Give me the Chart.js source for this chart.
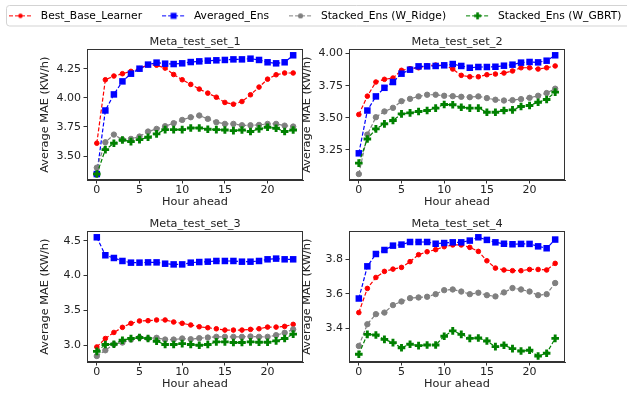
<!DOCTYPE html>
<html>
<head>
<meta charset="utf-8">
<script src="https://cdn.jsdelivr.net/npm/chart.js@4.4.0/dist/chart.umd.min.js"></script>
<style>
html, body { margin: 0; padding: 0; background: #fff; overflow: hidden; }
body { width: 627px; height: 396px; position: relative; }
canvas { position: absolute; }
</style>
</head>
<body>
<canvas id="legend" width="720" height="60" style="left:-11px;top:-6px"></canvas>
<canvas id="c1" width="313" height="180" style="left:0px;top:30px"></canvas>
<canvas id="c2" width="313" height="180" style="left:262px;top:30px"></canvas>
<canvas id="c3" width="313" height="180" style="left:0px;top:212px"></canvas>
<canvas id="c4" width="313" height="180" style="left:262px;top:212px"></canvas>
<script>
// data
const hours = [0, 1, 2, 3, 4, 5, 6, 7, 8, 9, 10, 11, 12, 13, 14, 15, 16, 17, 18, 19, 20, 21, 22, 23];
const xTicks = [0, 5, 10, 15, 20];
const seriesNames = ['Best_Base_Learner', 'Averaged_Ens', 'Stacked_Ens (W_Ridge)', 'Stacked_Ens (W_GBRT)'];
const seriesColors = ['#ff0000', '#0000ff', '#808080', '#008000'];

const set1Best  = [3.61, 4.155, 4.187, 4.207, 4.227, 4.25, 4.285, 4.28, 4.255, 4.20, 4.155, 4.115, 4.075, 4.04, 4.005, 3.96, 3.945, 3.968, 4.026, 4.092, 4.16, 4.198, 4.213, 4.213];
const set1Avg   = [3.345, 3.891, 4.029, 4.141, 4.207, 4.25, 4.285, 4.302, 4.293, 4.29, 4.296, 4.307, 4.313, 4.319, 4.322, 4.325, 4.33, 4.33, 4.336, 4.325, 4.305, 4.296, 4.305, 4.365];
const set1Ridge = [3.40, 3.618, 3.684, 3.641, 3.647, 3.667, 3.71, 3.733, 3.756, 3.782, 3.81, 3.833, 3.848, 3.819, 3.79, 3.776, 3.776, 3.764, 3.764, 3.767, 3.776, 3.776, 3.761, 3.753];
const set1Gbrt  = [3.345, 3.555, 3.609, 3.638, 3.624, 3.641, 3.661, 3.69, 3.727, 3.727, 3.727, 3.741, 3.741, 3.73, 3.727, 3.724, 3.718, 3.724, 3.71, 3.733, 3.747, 3.739, 3.71, 3.724];

const set2Best  = [3.526, 3.669, 3.779, 3.80, 3.81, 3.87, 3.883, 3.89, 3.906, 3.911, 3.909, 3.88, 3.831, 3.82, 3.82, 3.836, 3.841, 3.849, 3.865, 3.89, 3.89, 3.88, 3.89, 3.904];
const set2Avg   = [3.224, 3.557, 3.667, 3.734, 3.779, 3.844, 3.875, 3.901, 3.901, 3.904, 3.909, 3.919, 3.904, 3.89, 3.896, 3.896, 3.898, 3.906, 3.914, 3.93, 3.935, 3.932, 3.945, 3.987];
const set2Ridge = [3.0625, 3.37, 3.505, 3.55, 3.578, 3.63, 3.648, 3.667, 3.68, 3.68, 3.672, 3.669, 3.664, 3.661, 3.667, 3.654, 3.641, 3.635, 3.638, 3.646, 3.656, 3.672, 3.693, 3.727];
const set2Gbrt  = [3.148, 3.336, 3.414, 3.453, 3.479, 3.531, 3.539, 3.549, 3.557, 3.576, 3.604, 3.602, 3.583, 3.576, 3.576, 3.544, 3.544, 3.557, 3.562, 3.589, 3.596, 3.622, 3.643, 3.70];

const set3Best  = [2.976, 3.097, 3.184, 3.257, 3.315, 3.349, 3.353, 3.363, 3.363, 3.334, 3.315, 3.291, 3.266, 3.252, 3.237, 3.218, 3.218, 3.218, 3.228, 3.237, 3.261, 3.261, 3.271, 3.30];
const set3Avg   = [4.55, 4.292, 4.253, 4.21, 4.186, 4.186, 4.19, 4.19, 4.171, 4.161, 4.161, 4.186, 4.195, 4.20, 4.21, 4.21, 4.21, 4.20, 4.20, 4.21, 4.234, 4.244, 4.234, 4.234];
const set3Ridge = [2.845, 2.928, 3.015, 3.039, 3.082, 3.111, 3.097, 3.107, 3.082, 3.082, 3.097, 3.087, 3.102, 3.111, 3.121, 3.121, 3.121, 3.121, 3.126, 3.121, 3.121, 3.145, 3.179, 3.228];
const set3Gbrt  = [2.913, 3.01, 3.015, 3.073, 3.097, 3.111, 3.097, 3.058, 3.01, 3.01, 3.024, 3.01, 3.00, 3.01, 3.049, 3.049, 3.039, 3.039, 3.049, 3.044, 3.044, 3.063, 3.097, 3.16];

const set4Best  = [3.492, 3.631, 3.694, 3.729, 3.742, 3.752, 3.785, 3.825, 3.842, 3.854, 3.871, 3.881, 3.881, 3.867, 3.844, 3.79, 3.748, 3.737, 3.733, 3.733, 3.74, 3.74, 3.737, 3.775];
const set4Avg   = [3.573, 3.758, 3.829, 3.852, 3.877, 3.883, 3.898, 3.898, 3.898, 3.888, 3.892, 3.896, 3.896, 3.906, 3.925, 3.91, 3.896, 3.888, 3.885, 3.887, 3.887, 3.873, 3.862, 3.912];
const set4Ridge = [3.30, 3.425, 3.483, 3.492, 3.535, 3.556, 3.575, 3.579, 3.583, 3.598, 3.621, 3.625, 3.613, 3.598, 3.606, 3.592, 3.585, 3.608, 3.633, 3.625, 3.613, 3.592, 3.598, 3.662];
const set4Gbrt  = [3.252, 3.367, 3.363, 3.338, 3.319, 3.29, 3.31, 3.302, 3.306, 3.306, 3.356, 3.387, 3.367, 3.344, 3.346, 3.329, 3.296, 3.304, 3.285, 3.271, 3.275, 3.242, 3.258, 3.344];

const yTicks1 = [3.5, 3.75, 4.0, 4.25];
const yLabels1 = ['3.50', '3.75', '4.00', '4.25'];
const yTicks2 = [3.25, 3.5, 3.75, 4.0];
const yLabels2 = ['3.25', '3.50', '3.75', '4.00'];
const yTicks3 = [3.0, 3.5, 4.0, 4.5];
const yLabels3 = ['3.0', '3.5', '4.0', '4.5'];
const yTicks4 = [3.4, 3.6, 3.8];
const yLabels4 = ['3.4', '3.6', '3.8'];

const FONT = 'DejaVu Sans';
const TEXT = '#222';
const AXIS = '#333';

// box round the plot area, like the matplotlib spines
const frame = {
  id: 'frame',
  afterDatasetsDraw(chart) {
    const a = chart.chartArea;
    const ctx = chart.ctx;
    ctx.save();
    ctx.strokeStyle = AXIS;
    ctx.lineWidth = 1;
    ctx.strokeRect(Math.round(a.left) + 0.5, Math.round(a.top) + 0.5, Math.round(a.right - a.left) - 1, Math.round(a.bottom - a.top) - 1);
    ctx.restore();
  }
};

function series(i, values, shape, radius, borderW) {
  return {
    label: seriesNames[i],
    order: 3 - i,
    data: values.map((v, k) => ({ x: hours[k], y: v })),
    borderColor: seriesColors[i],
    backgroundColor: seriesColors[i],
    borderWidth: 1.2,
    borderDash: [4, 2],
    tension: 0,
    pointStyle: shape,
    pointRadius: radius,
    pointBorderWidth: borderW,
    pointBorderColor: seriesColors[i],
    pointBackgroundColor: seriesColors[i],
    clip: false
  };
}

function axisGrid() {
  return { display: true, drawOnChartArea: false, drawTicks: true, tickLength: 3.5, tickColor: AXIS, lineWidth: 1 };
}

function makePanel(id, title, best, avg, ridge, gbrt, yTicks, yLabels) {
  const all = best.concat(avg, ridge, gbrt);
  const lo = Math.min(...all);
  const hi = Math.max(...all);
  const pad = (hi - lo) * 0.05;
  new Chart(document.getElementById(id), {
    type: 'line',
    data: {
      datasets: [
        series(0, best, 'circle', 2.3, 1),
        series(1, avg, 'rect', 4.6, 0),
        series(2, ridge, 'circle', 2.7, 1),
        series(3, gbrt, 'cross', 3.8, 2.9)
      ]
    },
    options: {
      responsive: false,
      animation: false,
      events: [],
      layout: { padding: { left: 0, right: 10, top: 0, bottom: 0 } },
      plugins: {
        legend: { display: false },
        tooltip: { enabled: false },
        title: {
          display: true, fullSize: false, text: title, color: TEXT,
          font: { family: FONT, size: 11.3, weight: 'normal' },
          padding: { top: 5, bottom: 0.8 }
        }
      },
      scales: {
        x: {
          type: 'linear', min: -1.15, max: 24.15,
          afterFit: s => { s.height = 30; },
          afterBuildTicks: s => { s.ticks = xTicks.map(v => ({ value: v })); },
          ticks: { color: TEXT, font: { family: FONT, size: 11 }, padding: 0, maxRotation: 0, autoSkip: false },
          grid: axisGrid(),
          border: { display: true, color: AXIS },
          title: { display: true, text: 'Hour ahead', color: TEXT, font: { family: FONT, size: 11.3 }, padding: { top: 0, bottom: 1 } }
        },
        y: {
          type: 'linear', min: lo - pad, max: hi + pad,
          afterFit: s => { s.width = 87; },
          afterBuildTicks: s => { s.ticks = yTicks.map(v => ({ value: v })); },
          ticks: { color: TEXT, font: { family: FONT, size: 11 }, padding: 2.5, autoSkip: false, callback: (v, i) => yLabels[i] },
          grid: axisGrid(),
          border: { display: true, color: AXIS },
          title: { display: true, text: 'Average MAE (KW/h)', color: TEXT, font: { family: FONT, size: 11.3 }, padding: { top: 38.2, bottom: 0 } }
        }
      }
    },
    plugins: [frame]
  });
}

// legend handle: dashed line with the marker in the middle
function handleImage(i) {
  const c = document.createElement('canvas');
  c.width = 23;
  c.height = 9;
  const g = c.getContext('2d');
  const col = seriesColors[i];
  g.strokeStyle = col;
  g.fillStyle = col;
  g.lineWidth = 1.2;
  g.setLineDash([4, 2]);
  g.beginPath();
  g.moveTo(0, 4.5);
  g.lineTo(23, 4.5);
  g.stroke();
  g.setLineDash([]);
  if (i === 0 || i === 2) {
    g.beginPath();
    g.arc(11.5, 4.5, i === 0 ? 2.3 : 2.6, 0, Math.PI * 2);
    g.fill();
  } else if (i === 1) {
    g.fillRect(8.5, 1.5, 6, 6);
  } else {
    g.lineWidth = 2.6;
    g.beginPath();
    g.moveTo(8, 4.5); g.lineTo(15, 4.5);
    g.moveTo(11.5, 1); g.lineTo(11.5, 8);
    g.stroke();
  }
  return c;
}

const legendFrame = {
  id: 'legendFrame',
  beforeDraw(chart) {
    const ctx = chart.ctx;
    ctx.save();
    ctx.strokeStyle = '#d3d3d3';
    ctx.lineWidth = 1;
    ctx.beginPath();
    ctx.roundRect(17.5, 11.5, 700, 20.5, 3);
    ctx.stroke();
    ctx.restore();
  }
};

const handles = seriesNames.map((n, i) => handleImage(i));

new Chart(document.getElementById('legend'), {
  type: 'line',
  data: { datasets: [] },
  options: {
    responsive: false,
    animation: false,
    events: [],
    layout: { padding: 0 },
    scales: { x: { display: false }, y: { display: false } },
    plugins: {
      tooltip: { enabled: false },
      legend: {
        display: true, position: 'top', align: 'start',
        labels: {
          usePointStyle: true, pointStyleWidth: 30, padding: 16.5, color: TEXT,
          font: { family: FONT, size: 10.7 },
          generateLabels: () => seriesNames.map((n, i) => ({
            text: n, pointStyle: handles[i], fillStyle: seriesColors[i],
            strokeStyle: seriesColors[i], lineWidth: 0, hidden: false, datasetIndex: i
          }))
        }
      }
    }
  },
  plugins: [legendFrame]
});

makePanel('c1', 'Meta_test_set_1', set1Best, set1Avg, set1Ridge, set1Gbrt, yTicks1, yLabels1);
makePanel('c2', 'Meta_test_set_2', set2Best, set2Avg, set2Ridge, set2Gbrt, yTicks2, yLabels2);
makePanel('c3', 'Meta_test_set_3', set3Best, set3Avg, set3Ridge, set3Gbrt, yTicks3, yLabels3);
makePanel('c4', 'Meta_test_set_4', set4Best, set4Avg, set4Ridge, set4Gbrt, yTicks4, yLabels4);
</script>
</body>
</html>
